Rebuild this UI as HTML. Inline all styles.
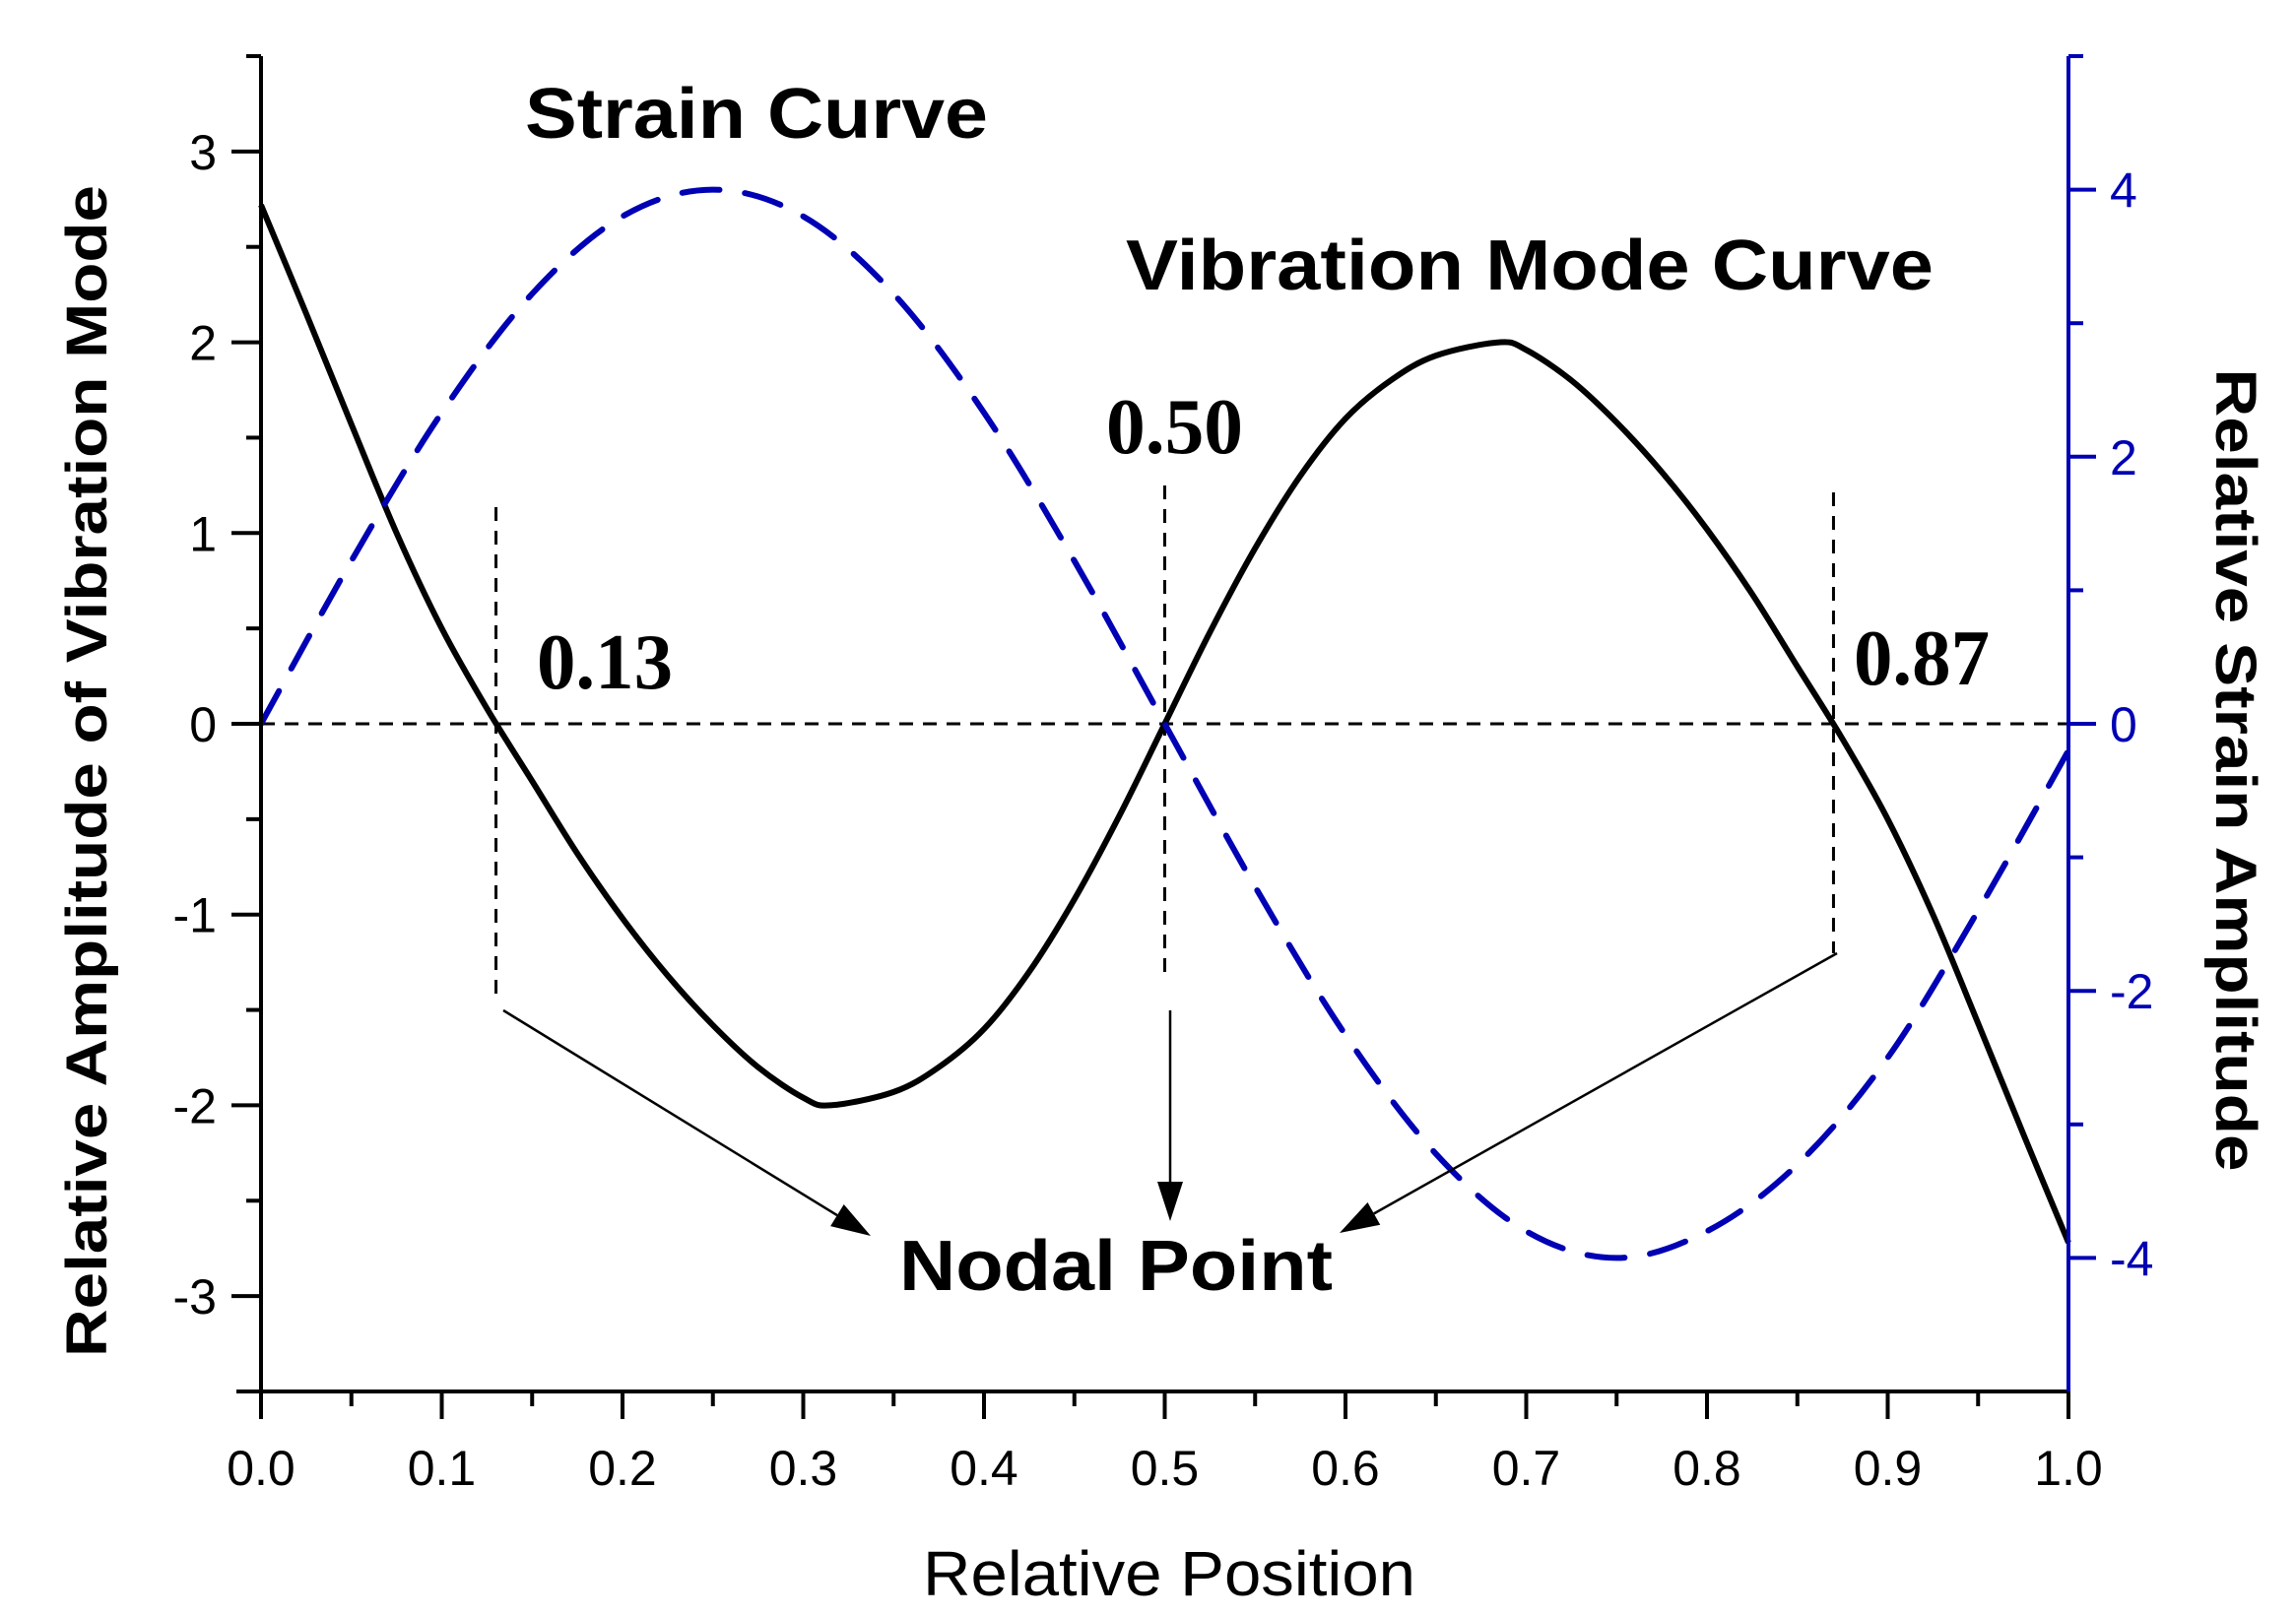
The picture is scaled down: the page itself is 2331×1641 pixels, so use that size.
<!DOCTYPE html>
<html><head><meta charset="utf-8"><style>
html,body{margin:0;padding:0;background:#fff;}
svg{display:block;}
</style></head><body>
<svg id="chart" width="2331" height="1641" viewBox="0 0 2331 1641" xmlns="http://www.w3.org/2000/svg" font-family="Liberation Sans, Arial, sans-serif">
<g id="grid"></g>
<g id="series"></g>
<g id="axes"></g>
<g id="ann"></g>
</svg>
<script>
const xTicks=[0,0.1,0.2,0.3,0.4,0.5,0.6,0.7,0.8,0.9,1.0];
const xTickLabels=["0.0","0.1","0.2","0.3","0.4","0.5","0.6","0.7","0.8","0.9","1.0"];
const leftTicks=[-3,-2,-1,0,1,2,3];
const rightTicks=[-4,-2,0,2,4];
const modeX=[0,0.025,0.05,0.075,0.1,0.125,0.15,0.175,0.2,0.225,0.25,0.275,0.3,0.315,0.35,0.375,0.4,0.425,0.45,0.475,0.5,0.525,0.55,0.575,0.6,0.625,0.65,0.685,0.7,0.725,0.75,0.775,0.8,0.825,0.85,0.875,0.9,0.925,0.95,0.975,1.0];
const modeY=[2.72,2.15,1.57,1.0,0.5,0.08,-0.3,-0.68,-1.02,-1.32,-1.58,-1.8,-1.96,-2.0,-1.93,-1.8,-1.6,-1.3,-0.92,-0.48,0,0.48,0.92,1.3,1.6,1.8,1.93,2.0,1.96,1.8,1.58,1.32,1.02,0.68,0.3,-0.08,-0.5,-1.0,-1.57,-2.15,-2.72];
const strainX=[0,0.05,0.1,0.15,0.2,0.25,0.3,0.35,0.4,0.45,0.5,0.55,0.6,0.65,0.7,0.75,0.8,0.85,0.9,0.95,1.0];
const strainY=[0,1.22,2.33,3.22,3.8,4.0,3.8,3.22,2.33,1.22,0,-1.22,-2.33,-3.22,-3.8,-4.0,-3.8,-3.3,-2.5,-1.4,-0.2];

const X0=265,X1=2100,YT=57,YB=1413;
const sx=v=>X0+(X1-X0)*v;
const syL=v=>YB-(v+3.5)/7*(YB-YT);
const syR=v=>YB-(v+5)/10*(YB-YT);
const NS="http://www.w3.org/2000/svg";
function mk(p,tag,at){const e=document.createElementNS(NS,tag);for(const k in at)e.setAttribute(k,at[k]);p.appendChild(e);return e;}
const G=document.getElementById('grid'),S=document.getElementById('series'),A=document.getElementById('axes'),N=document.getElementById('ann');

let l=mk(G,'line',{x1:sx(0),y1:syL(0),x2:sx(1),y2:syL(0),stroke:'#000','stroke-width':3,'stroke-dasharray':'14 10'});


const nodes=[[0.13,515,1013],[0.5,493,990],[0.87,500,968]];
nodes.forEach(n=>{const v=mk(G,'line',{x1:sx(n[0]),y1:n[1],x2:sx(n[0]),y2:n[2],stroke:'#000','stroke-width':3,'stroke-dasharray':'14 10'});

});

function smooth(xs,ys,fy){let p=xs.map((x,i)=>[sx(x),fy(ys[i])]);let s='M'+p[0][0]+','+p[0][1];
for(let i=0;i<p.length-1;i++){const p0=p[i-1]||p[i],p1=p[i],p2=p[i+1],p3=p[i+2]||p2;
s+=`C${p1[0]+(p2[0]-p0[0])/6},${p1[1]+(p2[1]-p0[1])/6} ${p2[0]-(p3[0]-p1[0])/6},${p2[1]-(p3[1]-p1[1])/6} ${p2[0]},${p2[1]}`;}return s;}
let m=mk(S,'path',{d:smooth(modeX,modeY,syL),fill:'none',stroke:'#000','stroke-width':6,'stroke-linejoin':'round'});


let st=mk(S,'path',{d:smooth(strainX,strainY,syR),fill:'none',stroke:'#0000b4','stroke-width':6,'stroke-dasharray':'38 26','stroke-linecap':'round'});



let ax=mk(A,'line',{x1:X0-25,y1:YB,x2:X1,y2:YB,stroke:'#000','stroke-width':4});


let al=mk(A,'line',{x1:X0,y1:YT,x2:X0,y2:YB+28,stroke:'#000','stroke-width':4});


mk(A,'line',{x1:X0-15,y1:YT,x2:X0,y2:YT,stroke:'#000','stroke-width':4});
let ar=mk(A,'line',{x1:X1,y1:YT,x2:X1,y2:YB,stroke:'#0000b4','stroke-width':4});


mk(A,'line',{x1:X1,y1:YT,x2:X1+15,y2:YT,stroke:'#0000b4','stroke-width':4});
xTicks.forEach((v,i)=>{mk(A,'line',{x1:sx(v),y1:YB,x2:sx(v),y2:YB+28,stroke:'#000','stroke-width':4});
if(i<xTicks.length-1)mk(A,'line',{x1:sx(v+0.05),y1:YB,x2:sx(v+0.05),y2:YB+15,stroke:'#000','stroke-width':4});
const t=mk(A,'text',{x:sx(v),y:1508,'font-size':50,'text-anchor':'middle',fill:'#000'});t.textContent=xTickLabels[i];

});
for(let v=-3.5;v<=3.5;v+=0.5){const maj=Number.isInteger(v);if(v===3.5||v===-3.5)continue;
mk(A,'line',{x1:X0-(maj?30:15),y1:syL(v),x2:X0,y2:syL(v),stroke:'#000','stroke-width':4});}
leftTicks.forEach(v=>{const t=mk(A,'text',{x:X0-45,y:syL(v)+18,'font-size':50,'text-anchor':'end',fill:'#000'});t.textContent=String(v);

});
for(let v=-5;v<=5;v++){if(v===5||v===-5)continue;const maj=v%2===0;
mk(A,'line',{x1:X1,y1:syR(v),x2:X1+(maj?28:15),y2:syR(v),stroke:'#0000b4','stroke-width':4});}
rightTicks.forEach(v=>{const t=mk(A,'text',{x:X1+42,y:syR(v)+18,'font-size':50,'text-anchor':'start',fill:'#0000b4'});t.textContent=String(v);

});

function txt(p,s,at,name){const t=mk(p,'text',at);t.textContent=s;return t;}
txt(A,'Relative Position',{x:1187,y:1620,'font-size':64,'text-anchor':'middle',textLength:500,lengthAdjust:'spacingAndGlyphs'},'x-axis-title');
txt(A,'Relative Amplitude of Vibration Mode',{x:0,y:0,'font-size':58,'font-weight':'bold','text-anchor':'middle',transform:'translate(108,783) rotate(-90)',textLength:1190,lengthAdjust:'spacingAndGlyphs'},'left-y-axis-title');
txt(A,'Relative Strain Amplitude',{x:0,y:0,'font-size':58,'font-weight':'bold','text-anchor':'middle',transform:'translate(2250,782) rotate(90)',textLength:815,lengthAdjust:'spacingAndGlyphs'},'right-y-axis-title');

const big={'font-size':72,'font-weight':'bold',lengthAdjust:'spacingAndGlyphs'};
txt(N,'Strain Curve',Object.assign({x:533,y:140,textLength:470},big),'strain-curve-label');
txt(N,'Vibration Mode Curve',Object.assign({x:1143,y:294,textLength:820},big),'vibration-mode-curve-label');
txt(N,'Nodal Point',Object.assign({x:913,y:1310,textLength:440},big),'nodal-point-label');
const serif={style:'font-family:"Liberation Serif",serif','font-size':80,'font-weight':'bold',lengthAdjust:'spacingAndGlyphs'};
txt(N,'0.50',Object.assign({x:1123,y:460,textLength:139},serif),'node-label-050');
txt(N,'0.13',Object.assign({x:545,y:699,textLength:138},serif),'node-label-013');
txt(N,'0.87',Object.assign({x:1882,y:695,textLength:138},serif),'node-label-087');
const arrows=[[511,1026,884,1255],[1188,1026,1188,1240],[1865,968,1360,1252]];
arrows.forEach(a=>{const [x1,y1,x2,y2]=a;const ang=Math.atan2(y2-y1,x2-x1);const L=40,W=13;
const bx=x2-L*Math.cos(ang),by=y2-L*Math.sin(ang);
const ln=mk(N,'line',{x1:x1,y1:y1,x2:bx,y2:by,stroke:'#000','stroke-width':2.5});


mk(N,'polygon',{points:`${x2},${y2} ${bx+W*Math.sin(ang)},${by-W*Math.cos(ang)} ${bx-W*Math.sin(ang)},${by+W*Math.cos(ang)}`,fill:'#000'});});
</script>
</body></html>
